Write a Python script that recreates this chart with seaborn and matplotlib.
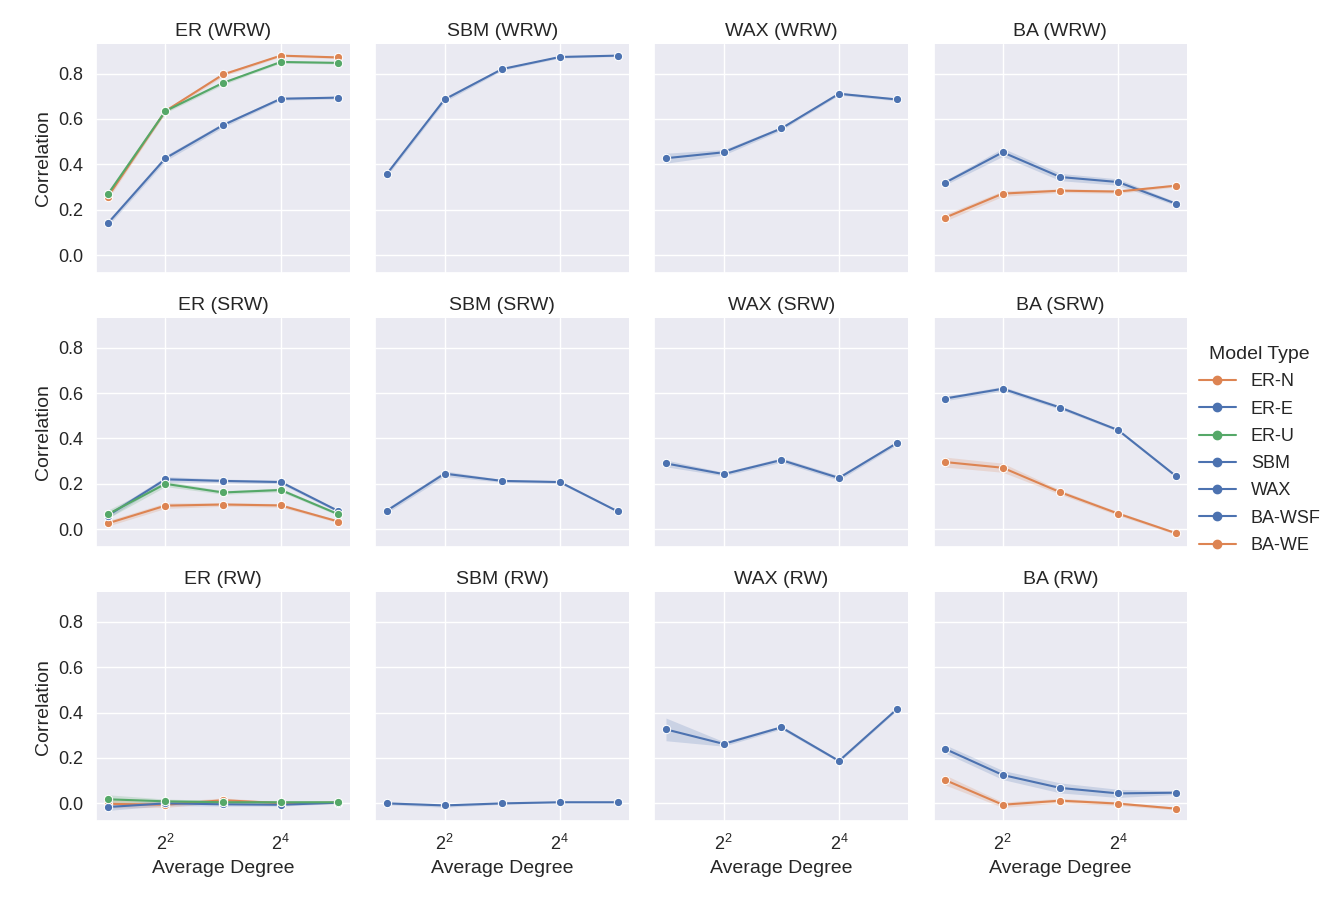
import pandas as pd
import matplotlib.pyplot as plt
import seaborn as sns

# x values (average degree)
degrees = [2, 4, 8, 16, 32]
walks = ["WRW", "SRW", "RW"]
graphs = ["ER", "SBM", "WAX", "BA"]
hue_order = ["ER-N", "ER-E", "ER-U", "SBM", "WAX", "BA-WSF", "BA-WE"]
models_by_graph = {
    "ER": ["ER-N", "ER-E", "ER-U"],
    "SBM": ["SBM"],
    "WAX": ["WAX"],
    "BA": ["BA-WSF", "BA-WE"],
}

# mean correlation per model, one dict per walk type
corr_wrw = {
    "ER-N": [0.257, 0.635, 0.796, 0.879, 0.871],
    "ER-E": [0.140, 0.427, 0.573, 0.689, 0.694],
    "ER-U": [0.268, 0.635, 0.759, 0.851, 0.847],
    "SBM": [0.358, 0.686, 0.820, 0.873, 0.879],
    "WAX": [0.427, 0.453, 0.558, 0.711, 0.686],
    "BA-WSF": [0.319, 0.453, 0.344, 0.322, 0.227],
    "BA-WE": [0.165, 0.271, 0.284, 0.280, 0.306],
}
corr_srw = {
    "ER-N": [0.026, 0.104, 0.109, 0.105, 0.034],
    "ER-E": [0.060, 0.220, 0.213, 0.208, 0.080],
    "ER-U": [0.066, 0.200, 0.162, 0.173, 0.066],
    "SBM": [0.082, 0.245, 0.213, 0.208, 0.079],
    "WAX": [0.290, 0.243, 0.305, 0.226, 0.379],
    "BA-WSF": [0.576, 0.619, 0.536, 0.437, 0.235],
    "BA-WE": [0.296, 0.271, 0.163, 0.069, -0.017],
}
corr_rw = {
    "ER-N": [-0.002, -0.006, 0.014, 0.001, 0.003],
    "ER-E": [-0.016, 0.000, -0.004, -0.006, 0.003],
    "ER-U": [0.018, 0.009, 0.005, 0.005, 0.005],
    "SBM": [0.000, -0.009, 0.000, 0.005, 0.005],
    "WAX": [0.326, 0.262, 0.335, 0.187, 0.414],
    "BA-WSF": [0.240, 0.125, 0.068, 0.044, 0.047],
    "BA-WE": [0.103, -0.006, 0.012, -0.001, -0.023],
}

# half-width of the confidence band
ci_wrw = {
    "ER-N": [0.012, 0.008, 0.008, 0.005, 0.005],
    "ER-E": [0.012, 0.012, 0.010, 0.006, 0.006],
    "ER-U": [0.010, 0.008, 0.008, 0.005, 0.005],
    "SBM": [0.010, 0.010, 0.006, 0.005, 0.004],
    "WAX": [0.022, 0.012, 0.008, 0.006, 0.006],
    "BA-WSF": [0.010, 0.018, 0.016, 0.014, 0.008],
    "BA-WE": [0.015, 0.012, 0.008, 0.008, 0.006],
}
ci_srw = {
    "ER-N": [0.012, 0.012, 0.008, 0.008, 0.006],
    "ER-E": [0.012, 0.012, 0.008, 0.008, 0.006],
    "ER-U": [0.018, 0.012, 0.008, 0.008, 0.006],
    "SBM": [0.010, 0.012, 0.006, 0.006, 0.004],
    "WAX": [0.015, 0.008, 0.010, 0.010, 0.008],
    "BA-WSF": [0.010, 0.010, 0.008, 0.006, 0.006],
    "BA-WE": [0.022, 0.020, 0.010, 0.008, 0.006],
}
ci_rw = {
    "ER-N": [0.018, 0.012, 0.010, 0.006, 0.004],
    "ER-E": [0.015, 0.010, 0.008, 0.006, 0.004],
    "ER-U": [0.020, 0.010, 0.008, 0.006, 0.004],
    "SBM": [0.006, 0.008, 0.004, 0.003, 0.003],
    "WAX": [0.050, 0.010, 0.008, 0.006, 0.006],
    "BA-WSF": [0.018, 0.020, 0.022, 0.018, 0.008],
    "BA-WE": [0.022, 0.012, 0.010, 0.008, 0.006],
}

corr = {"WRW": corr_wrw, "SRW": corr_srw, "RW": corr_rw}
ci = {"WRW": ci_wrw, "SRW": ci_srw, "RW": ci_rw}

deep = sns.color_palette("deep")
palette = {
    "ER-N": deep[1], "ER-E": deep[0], "ER-U": deep[2], "SBM": deep[0],
    "WAX": deep[0], "BA-WSF": deep[0], "BA-WE": deep[1],
}

# long-form table
rows = []
for walk in walks:
    for graph in graphs:
        for model in models_by_graph[graph]:
            for d, v in zip(degrees, corr[walk][model]):
                rows.append({"Walk": walk, "Graph": graph, "Model Type": model,
                             "Average Degree": d, "Correlation": v})
df = pd.DataFrame(rows)

sns.set_theme(style="darkgrid")
plt.rcParams['font.family'] = ['Liberation Sans', 'DejaVu Sans']

g = sns.relplot(data=df, x="Average Degree", y="Correlation", hue="Model Type",
                hue_order=hue_order, palette=palette, row="Walk", col="Graph",
                row_order=walks, col_order=graphs, kind="line", marker="o",
                errorbar=None, height=2.6, aspect=1.1,
                facet_kws={"sharex": True, "sharey": True})

g.set_titles("{col_name} ({row_name})", size=14)

for (walk, graph), ax in g.axes_dict.items():
    for model in models_by_graph[graph]:
        lo = [m - e for m, e in zip(corr[walk][model], ci[walk][model])]
        hi = [m + e for m, e in zip(corr[walk][model], ci[walk][model])]
        ax.fill_between(degrees, lo, hi, color=palette[model], alpha=0.2, linewidth=0)
    ax.set_xscale("log", base=2)
    ax.set_xticks([4, 16])
    ax.set_yticks([0.0, 0.2, 0.4, 0.6, 0.8])

g.set_axis_labels("Average Degree", "Correlation", fontsize=14)
for ax in g.axes.flat:
    ax.tick_params(labelsize=13)

g.figure.set_size_inches(13.37, 9)
g.figure.subplots_adjust(left=0.072, right=0.888, top=0.951, bottom=0.088,
                         wspace=0.1, hspace=0.2)

sns.move_legend(g, "center right", bbox_to_anchor=(1.0, 0.5),
                title="Model Type", fontsize=13, title_fontsize=14,
                labelspacing=0.57, handlelength=2.1, frameon=False)

plt.savefig("out.png", dpi=100)
plt.close()
